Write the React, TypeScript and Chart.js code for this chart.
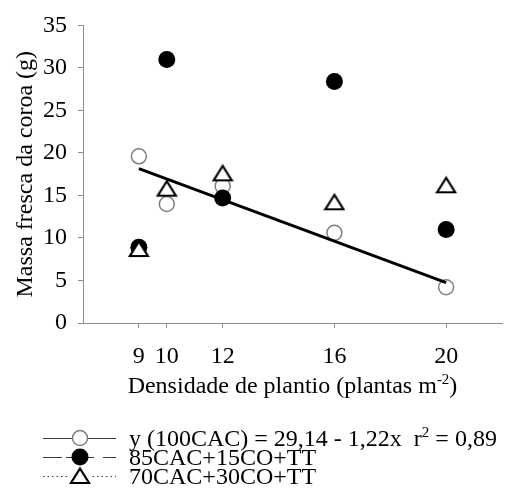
import React, { useEffect, useRef } from "react";
import { Chart, registerables } from "chart.js";

Chart.register(...registerables);

// ---- data ----
const densities = [9, 10, 12, 16, 20];
const xTickValues = [9, 10, 12, 16, 20];
const yTickValues = [0, 5, 10, 15, 20, 25, 30, 35];
const cac100 = [19.6, 14.0, 16.1, 10.6, 4.2];
const cac85 = [8.9, 31.0, 14.7, 28.4, 11.0];
const cac70 = [8.7, 15.8, 17.6, 14.2, 16.2];
const fitX = [9, 20];
const fitY = [18.16, 4.74];
const yTitle = "Massa fresca da coroa (g)";
const xTitleMain = "Densidade de plantio (plantas m";
const xTitleSup = "-2";
const xTitleEnd = ")";
const legend1 = ["y (100CAC) = 29,14 - 1,22x  r", "2", " = 0,89"];
const legend2 = "85CAC+15CO+TT";
const legend3 = "70CAC+30CO+TT";

const FONT = "'Liberation Serif', 'Times New Roman', serif";

function makeTriangle(): HTMLCanvasElement {
  const c = document.createElement("canvas");
  c.width = 22;
  c.height = 20;
  const g = c.getContext("2d")!;
  g.beginPath();
  g.moveTo(11, 2.5);
  g.lineTo(2, 17);
  g.lineTo(20, 17);
  g.closePath();
  g.fillStyle = "#ffffff";
  g.fill();
  g.lineWidth = 2.2;
  g.strokeStyle = "#000000";
  g.lineJoin = "miter";
  g.stroke();
  return c;
}

export default function App() {
  const ref = useRef<HTMLCanvasElement | null>(null);

  useEffect(() => {
    const canvas = ref.current!;
    const tri = makeTriangle();

    const legendPlugin = {
      id: "customTexts",
      afterDraw(chart: any) {
        const ctx = chart.ctx as CanvasRenderingContext2D;
        const area = chart.chartArea;
        ctx.save();
        // x title with superscript
        ctx.fillStyle = "#000";
        ctx.textBaseline = "alphabetic";
        ctx.textAlign = "left";
        const big = `24px ${FONT}`;
        const small = `15px ${FONT}`;
        ctx.font = big;
        const w1 = ctx.measureText(xTitleMain).width;
        const w3 = ctx.measureText(xTitleEnd).width;
        ctx.font = small;
        const w2 = ctx.measureText(xTitleSup).width;
        const total = w1 + w2 + w3;
        const cx = (area.left + area.right) / 2;
        let x = cx - total / 2;
        const by = 393;
        ctx.font = big;
        ctx.fillText(xTitleMain, x, by);
        x += w1;
        ctx.font = small;
        ctx.fillText(xTitleSup, x, by - 9);
        x += w2;
        ctx.font = big;
        ctx.fillText(xTitleEnd, x, by);

        // legend
        const lx0 = 43;
        const lx1 = 116;
        const mx = 80;
        const tx = 129;
        const rows = [438, 457, 476];
        const lineCol = "#3a3a3a";
        // row 1: solid line + open circle
        ctx.strokeStyle = lineCol;
        ctx.lineWidth = 1;
        ctx.setLineDash([]);
        ctx.beginPath();
        ctx.moveTo(lx0, rows[0] + 0.5);
        ctx.lineTo(lx1, rows[0] + 0.5);
        ctx.stroke();
        ctx.beginPath();
        ctx.arc(mx, rows[0], 7.5, 0, Math.PI * 2);
        ctx.fillStyle = "#fff";
        ctx.fill();
        ctx.strokeStyle = "#7f7f7f";
        ctx.lineWidth = 1.5;
        ctx.stroke();
        // row 2: dashed line + filled circle
        ctx.strokeStyle = lineCol;
        ctx.lineWidth = 1;
        ctx.setLineDash([19, 11]);
        ctx.beginPath();
        ctx.moveTo(lx0, rows[1] + 0.5);
        ctx.lineTo(lx1, rows[1] + 0.5);
        ctx.stroke();
        ctx.setLineDash([]);
        ctx.fillStyle = "#fff";
        ctx.fillRect(mx - 12, rows[1] - 3, 24, 6);
        ctx.beginPath();
        ctx.moveTo(mx - 14, rows[1] + 0.5);
        ctx.lineTo(mx + 14, rows[1] + 0.5);
        ctx.stroke();
        ctx.beginPath();
        ctx.arc(mx, rows[1], 8.5, 0, Math.PI * 2);
        ctx.fillStyle = "#000";
        ctx.fill();
        // row 3: dotted line + triangle
        ctx.strokeStyle = lineCol;
        ctx.lineWidth = 1;
        ctx.setLineDash([1.5, 3]);
        ctx.beginPath();
        ctx.moveTo(lx0, rows[2] + 0.5);
        ctx.lineTo(lx1, rows[2] + 0.5);
        ctx.stroke();
        ctx.setLineDash([]);
        ctx.fillStyle = "#fff";
        ctx.fillRect(mx - 11, rows[2] - 10, 22, 20);
        ctx.drawImage(tri, mx - 11, rows[2] - 10);

        // legend texts
        ctx.fillStyle = "#000";
        ctx.textBaseline = "alphabetic";
        const tb = [446, 465, 484];
        ctx.font = big;
        let xx = tx;
        ctx.fillText(legend1[0], xx, tb[0]);
        xx += ctx.measureText(legend1[0]).width;
        ctx.font = small;
        ctx.fillText(legend1[1], xx, tb[0] - 9);
        xx += ctx.measureText(legend1[1]).width;
        ctx.font = big;
        ctx.fillText(legend1[2], xx, tb[0]);
        ctx.fillText(legend2, tx, tb[1]);
        ctx.fillText(legend3, tx, tb[2]);
        ctx.restore();
      },
    };

    const toPts = (ys: number[]) => densities.map((d, i) => ({ x: d, y: ys[i] }));

    const chart = new Chart(canvas, {
      type: "scatter",
      data: {
        datasets: [
          {
            label: "100CAC",
            data: toPts(cac100),
            pointStyle: "circle",
            pointRadius: 7.5,
            pointBackgroundColor: "#ffffff",
            pointBorderColor: "#7f7f7f",
            pointBorderWidth: 1.5,
            showLine: false,
            order: 4,
          },
          {
            label: "fit",
            type: "line",
            data: fitX.map((x, i) => ({ x, y: fitY[i] })),
            borderColor: "#000",
            borderWidth: 3,
            pointRadius: 0,
            showLine: true,
            fill: false,
            order: 3,
          } as any,
          {
            label: legend2,
            data: toPts(cac85),
            pointStyle: "circle",
            pointRadius: 8.5,
            pointBackgroundColor: "#000",
            pointBorderColor: "#000",
            pointBorderWidth: 0,
            showLine: false,
            order: 2,
          },
          {
            label: legend3,
            data: toPts(cac70),
            pointStyle: tri as any,
            pointRadius: 9,
            showLine: false,
            order: 1,
          },
        ],
      },
      options: {
        animation: false,
        responsive: false,
        maintainAspectRatio: false,
        events: [],
        layout: { autoPadding: false, padding: { top: 23, right: 5, bottom: 121, left: 0 } },
        plugins: {
          legend: { display: false },
          tooltip: { enabled: false },
          title: { display: false },
        },
        scales: {
          x: {
            type: "linear",
            min: 7,
            max: 22,
            afterBuildTicks: (scale: any) => {
              scale.ticks = xTickValues.map((v) => ({ value: v }));
            },
            afterFit: (scale: any) => {
              scale.height = 60;
            },
            ticks: {
              color: "#000",
              font: { family: FONT, size: 24 },
              padding: 14,
              maxRotation: 0,
              autoSkip: false,
            },
            grid: {
              display: true,
              drawOnChartArea: false,
              drawTicks: true,
              tickLength: 5,
              color: "#8c8c8c",
            },
            border: { display: true, color: "#8c8c8c", width: 1 },
          },
          y: {
            type: "linear",
            min: 0,
            max: 35,
            afterBuildTicks: (scale: any) => {
              scale.ticks = yTickValues.map((v) => ({ value: v }));
            },
            afterFit: (scale: any) => {
              scale.width = 83;
            },
            ticks: {
              color: "#000",
              font: { family: FONT, size: 24 },
              padding: 11,
            },
            grid: {
              display: true,
              drawOnChartArea: false,
              drawTicks: true,
              tickLength: 5,
              color: "#8c8c8c",
            },
            border: { display: true, color: "#8c8c8c", width: 1 },
            title: {
              display: true,
              text: yTitle,
              color: "#000",
              font: { family: FONT, size: 24 },
              padding: { top: 11, bottom: 0 },
            },
          },
        },
      },
      plugins: [legendPlugin],
    });

    return () => chart.destroy();
  }, []);

  return (
    <div style={{ position: "fixed", left: 0, top: 0, width: 507, height: 504, background: "#fff" }}>
      <canvas ref={ref} width={507} height={504} style={{ display: "block", width: 507, height: 504 }} />
    </div>
  );
}
